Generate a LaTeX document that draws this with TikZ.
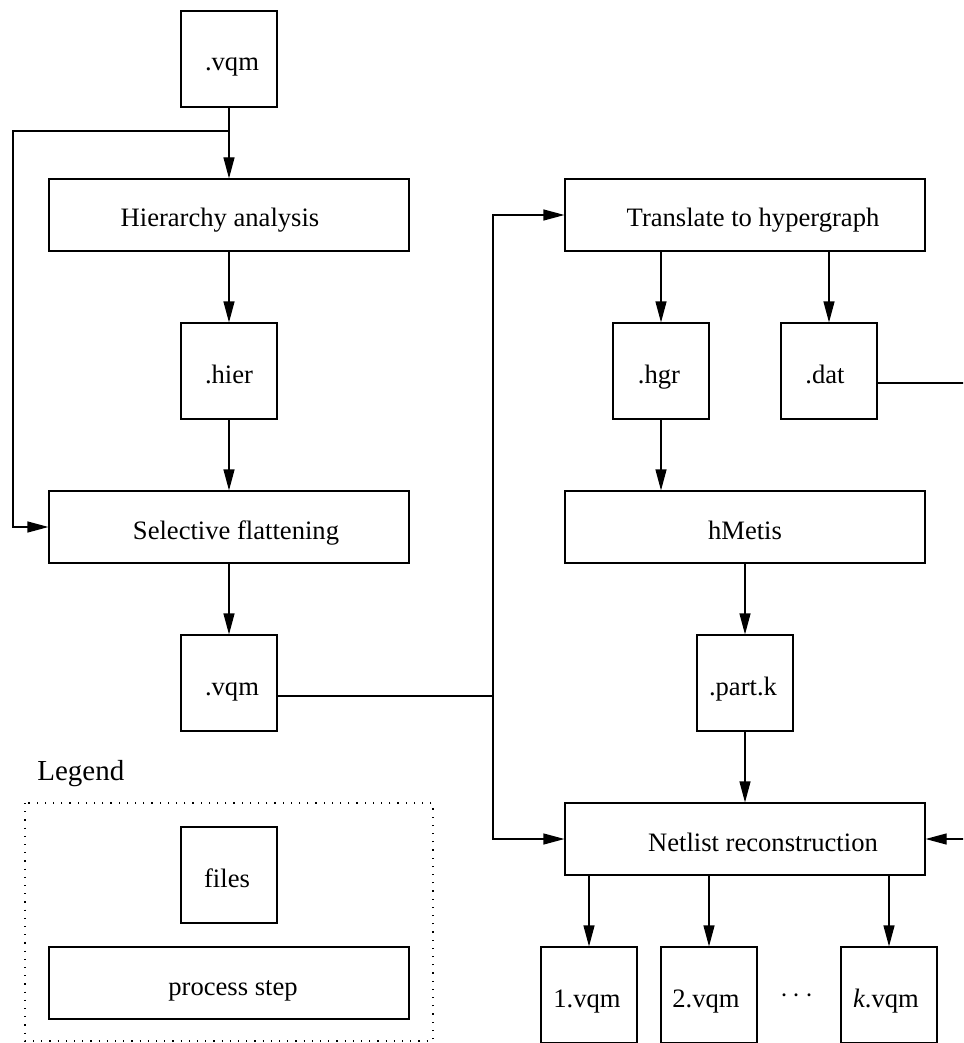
\documentclass[tikz,border=0pt]{standalone}
\usepackage{fontspec}
\setmainfont{Liberation Serif}
\usetikzlibrary{arrows.meta,calc}
\newcommand\shft[2]{\hspace*{#1pt}#2}
\begin{document}
\begin{tikzpicture}[x=0.5pt,y=-0.5pt,
  every node/.style={font=\fontsize{13.3}{16}\selectfont},
  basebox/.style={draw, line width=0.6pt, inner sep=0pt, text height=12pt, text depth=0pt},
  filebox/.style={basebox, minimum width=48pt, minimum height=48pt},
  procbox/.style={basebox, minimum width=180pt, minimum height=36pt},
  arr/.style={line width=0.6pt, -{Triangle[length=10.5pt,width=5.5pt]}},
  ln/.style={line width=0.6pt}]
\useasboundingbox (0,0) rectangle (963,1043);
\clip (0,0) rectangle (963,1043);

% left column
\node[filebox] (vqmA) at (229,59) {\shft{3}{.vqm}};
\node[procbox] (hana) at (229,215) {\shft{-9}{Hierarchy analysis}};
\node[filebox] (hier) at (229,371) {.hier};
\node[procbox] (sel) at (229,527) {\shft{7}{Selective flattening}};
\node[filebox] (vqmB) at (229,683) {\shft{3}{.vqm}};

% right column
\node[procbox] (trans) at (745,215) {\shft{8}{Translate to hypergraph}};
\node[filebox] (hgr) at (661,371) {\shft{-2}{.hgr}};
\node[filebox] (dat) at (829,371) {\shft{-4}{.dat}};
\node[procbox] (hmetis) at (745,527) {hMetis};
\node[filebox] (partk) at (745,683) {\shft{-2}{.part.k}};
\node[procbox] (net) at (745,839) {\shft{18}{Netlist reconstruction}};
\node[filebox] (o1) at (589,995) {\shft{-2}{1.vqm}};
\node[filebox] (o2) at (709,995) {\shft{-3}{2.vqm}};
\node[filebox] (ok) at (889,995) {\shft{-3}{\textit{k}.vqm}};
\node[anchor=base, inner sep=0pt] (dots) at (797,1002) {$\cdots$};

% legend
\node[anchor=base west, inner sep=0pt, font=\fontsize{14.5}{17}\selectfont] (leg) at (37,780) {Legend};
\draw[line width=0.6pt, dash pattern=on 0.6pt off 3.5pt] (25,803) rectangle (433,1041);
\node[filebox] (files) at (229,875) {\shft{-2}{files}};
\node[procbox] (pstep) at (229,983) {\shft{4}{process step}};

% connectors left
\coordinate (br) at (229,131);
\coordinate (fl) at (13,131);
\draw[arr] (vqmA.south) -- (hana.north);
\draw[arr] (br) -- (fl) |- (sel.west);
\draw[arr] (hana.south) -- (hier.north);
\draw[arr] (hier.south) -- (sel.north);
\draw[arr] (sel.south) -- (vqmB.north);

% junction
\coordinate (vqmBout) at ($(vqmB.east)+(0,13)$);
\coordinate (jn) at (493,696);
\draw[ln] (vqmBout) -- (jn);
\draw[arr] (jn) |- (trans.west);
\draw[arr] (jn) |- (net.west);

% right connectors
\draw[arr] (hgr.north |- trans.south) -- (hgr.north);
\draw[arr] (dat.north |- trans.south) -- (dat.north);
\draw[arr] (hgr.south) -- (hgr.south |- hmetis.north);
\draw[arr] (hmetis.south) -- (partk.north);
\draw[arr] (partk.south) -- (net.north);
\coordinate (datout) at ($(dat.east)+(0,12)$);
\coordinate (rc) at (980,383);
\draw[arr] (datout) -- (rc) |- (net.east);
\draw[arr] (o1.north |- net.south) -- (o1.north);
\draw[arr] (o2.north |- net.south) -- (o2.north);
\draw[arr] (ok.north |- net.south) -- (ok.north);
\end{tikzpicture}
\end{document}
